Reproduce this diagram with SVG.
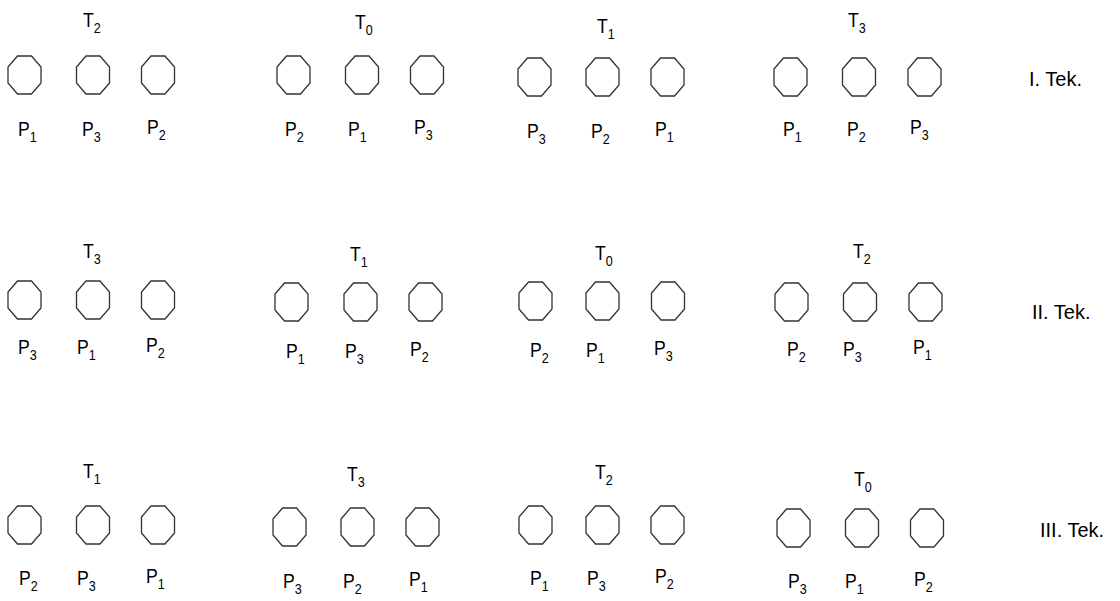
<svg xmlns="http://www.w3.org/2000/svg" width="1120" height="601" viewBox="0 0 1120 601">
<style>
text{font-family:"Liberation Sans",Arial,sans-serif;font-size:21px;fill:#000}
.s{font-size:15px}
.k{font-size:20px}
.o{fill:#fff;stroke:#333;stroke-width:1.3}
</style>
<defs>
<polygon id="oct" class="o" points="-7,-19 7,-19 16.5,-8 16.5,8 7,19 -7,19 -16.5,8 -16.5,-8"/>
</defs>
<rect width="1120" height="601" fill="#fff"/>
<g id="connectors"/>
<!-- Row 1 -->
<g id="r1a">
<text transform="translate(83,27) scale(.84,1)">T<tspan class="s" dy="6">2</tspan></text>
<g id="r1a1"><use href="#oct" x="24.5" y="75"/><text transform="translate(18,136) scale(.84,1)">P<tspan class="s" dy="6">1</tspan></text></g>
<g id="r1a2"><use href="#oct" x="93" y="75"/><text transform="translate(82,136) scale(.84,1)">P<tspan class="s" dy="6">3</tspan></text></g>
<g id="r1a3"><use href="#oct" x="158" y="75"/><text transform="translate(147,134) scale(.84,1)">P<tspan class="s" dy="6">2</tspan></text></g>
</g>
<g id="r1b">
<text transform="translate(355,29) scale(.84,1)">T<tspan class="s" dy="6">0</tspan></text>
<g id="r1b1"><use href="#oct" x="293.5" y="75"/><text transform="translate(285,136) scale(.84,1)">P<tspan class="s" dy="6">2</tspan></text></g>
<g id="r1b2"><use href="#oct" x="362" y="75"/><text transform="translate(348,136) scale(.84,1)">P<tspan class="s" dy="6">1</tspan></text></g>
<g id="r1b3"><use href="#oct" x="427" y="75"/><text transform="translate(414,134) scale(.84,1)">P<tspan class="s" dy="6">3</tspan></text></g>
</g>
<g id="r1c">
<text transform="translate(597,33) scale(.84,1)">T<tspan class="s" dy="6">1</tspan></text>
<g id="r1c1"><use href="#oct" x="534.5" y="77"/><text transform="translate(527,138) scale(.84,1)">P<tspan class="s" dy="6">3</tspan></text></g>
<g id="r1c2"><use href="#oct" x="602.5" y="77"/><text transform="translate(591,138) scale(.84,1)">P<tspan class="s" dy="6">2</tspan></text></g>
<g id="r1c3"><use href="#oct" x="667.5" y="77"/><text transform="translate(655,136) scale(.84,1)">P<tspan class="s" dy="6">1</tspan></text></g>
</g>
<g id="r1d">
<text transform="translate(848,27) scale(.84,1)">T<tspan class="s" dy="6">3</tspan></text>
<g id="r1d1"><use href="#oct" x="790.5" y="77"/><text transform="translate(783,136) scale(.84,1)">P<tspan class="s" dy="6">1</tspan></text></g>
<g id="r1d2"><use href="#oct" x="859" y="77"/><text transform="translate(847,136) scale(.84,1)">P<tspan class="s" dy="6">2</tspan></text></g>
<g id="r1d3"><use href="#oct" x="924.5" y="77"/><text transform="translate(910,134) scale(.84,1)">P<tspan class="s" dy="6">3</tspan></text></g>
</g>
<g id="tek1"><text class="k" x="1029" y="86">I. Tek.</text></g>
<!-- Row 2 -->
<g id="r2a">
<text transform="translate(83,258) scale(.84,1)">T<tspan class="s" dy="6">3</tspan></text>
<g id="r2a1"><use href="#oct" x="24.5" y="300"/><text transform="translate(18,354) scale(.84,1)">P<tspan class="s" dy="6">3</tspan></text></g>
<g id="r2a2"><use href="#oct" x="93" y="300"/><text transform="translate(77,354) scale(.84,1)">P<tspan class="s" dy="6">1</tspan></text></g>
<g id="r2a3"><use href="#oct" x="158" y="300"/><text transform="translate(146,352) scale(.84,1)">P<tspan class="s" dy="6">2</tspan></text></g>
</g>
<g id="r2b">
<text transform="translate(350,261) scale(.84,1)">T<tspan class="s" dy="6">1</tspan></text>
<g id="r2b1"><use href="#oct" x="291.5" y="302"/><text transform="translate(286,358) scale(.84,1)">P<tspan class="s" dy="6">1</tspan></text></g>
<g id="r2b2"><use href="#oct" x="360.5" y="302"/><text transform="translate(345,358) scale(.84,1)">P<tspan class="s" dy="6">3</tspan></text></g>
<g id="r2b3"><use href="#oct" x="425.5" y="302"/><text transform="translate(410,356) scale(.84,1)">P<tspan class="s" dy="6">2</tspan></text></g>
</g>
<g id="r2c">
<text transform="translate(595,260) scale(.84,1)">T<tspan class="s" dy="6">0</tspan></text>
<g id="r2c1"><use href="#oct" x="535.5" y="301"/><text transform="translate(530,357) scale(.84,1)">P<tspan class="s" dy="6">2</tspan></text></g>
<g id="r2c2"><use href="#oct" x="602.5" y="301"/><text transform="translate(586,357) scale(.84,1)">P<tspan class="s" dy="6">1</tspan></text></g>
<g id="r2c3"><use href="#oct" x="668" y="301"/><text transform="translate(654,355) scale(.84,1)">P<tspan class="s" dy="6">3</tspan></text></g>
</g>
<g id="r2d">
<text transform="translate(853,258) scale(.84,1)">T<tspan class="s" dy="6">2</tspan></text>
<g id="r2d1"><use href="#oct" x="791.5" y="302"/><text transform="translate(787,356) scale(.84,1)">P<tspan class="s" dy="6">2</tspan></text></g>
<g id="r2d2"><use href="#oct" x="860" y="302"/><text transform="translate(843,356) scale(.84,1)">P<tspan class="s" dy="6">3</tspan></text></g>
<g id="r2d3"><use href="#oct" x="925.5" y="302"/><text transform="translate(913,354) scale(.84,1)">P<tspan class="s" dy="6">1</tspan></text></g>
</g>
<g id="tek2"><text class="k" x="1032" y="319">II. Tek.</text></g>
<!-- Row 3 -->
<g id="r3a">
<text transform="translate(83,478) scale(.84,1)">T<tspan class="s" dy="6">1</tspan></text>
<g id="r3a1"><use href="#oct" x="24.5" y="525"/><text transform="translate(19,585) scale(.84,1)">P<tspan class="s" dy="6">2</tspan></text></g>
<g id="r3a2"><use href="#oct" x="93" y="525"/><text transform="translate(77,585) scale(.84,1)">P<tspan class="s" dy="6">3</tspan></text></g>
<g id="r3a3"><use href="#oct" x="158" y="525"/><text transform="translate(146,583) scale(.84,1)">P<tspan class="s" dy="6">1</tspan></text></g>
</g>
<g id="r3b">
<text transform="translate(347,481) scale(.84,1)">T<tspan class="s" dy="6">3</tspan></text>
<g id="r3b1"><use href="#oct" x="289.5" y="527"/><text transform="translate(283,588) scale(.84,1)">P<tspan class="s" dy="6">3</tspan></text></g>
<g id="r3b2"><use href="#oct" x="357.5" y="527"/><text transform="translate(343,588) scale(.84,1)">P<tspan class="s" dy="6">2</tspan></text></g>
<g id="r3b3"><use href="#oct" x="422.5" y="527"/><text transform="translate(409,586) scale(.84,1)">P<tspan class="s" dy="6">1</tspan></text></g>
</g>
<g id="r3c">
<text transform="translate(595,479) scale(.84,1)">T<tspan class="s" dy="6">2</tspan></text>
<g id="r3c1"><use href="#oct" x="535.5" y="525"/><text transform="translate(530,585) scale(.84,1)">P<tspan class="s" dy="6">1</tspan></text></g>
<g id="r3c2"><use href="#oct" x="602.5" y="525"/><text transform="translate(587,585) scale(.84,1)">P<tspan class="s" dy="6">3</tspan></text></g>
<g id="r3c3"><use href="#oct" x="667.5" y="525"/><text transform="translate(655,583) scale(.84,1)">P<tspan class="s" dy="6">2</tspan></text></g>
</g>
<g id="r3d">
<text transform="translate(854,486) scale(.84,1)">T<tspan class="s" dy="6">0</tspan></text>
<g id="r3d1"><use href="#oct" x="793.5" y="528"/><text transform="translate(788,588) scale(.84,1)">P<tspan class="s" dy="6">3</tspan></text></g>
<g id="r3d2"><use href="#oct" x="862" y="528"/><text transform="translate(845,588) scale(.84,1)">P<tspan class="s" dy="6">1</tspan></text></g>
<g id="r3d3"><use href="#oct" x="927" y="528"/><text transform="translate(914,586) scale(.84,1)">P<tspan class="s" dy="6">2</tspan></text></g>
</g>
<g id="tek3"><text class="k" x="1040" y="537">III. Tek.</text></g>
</svg>
